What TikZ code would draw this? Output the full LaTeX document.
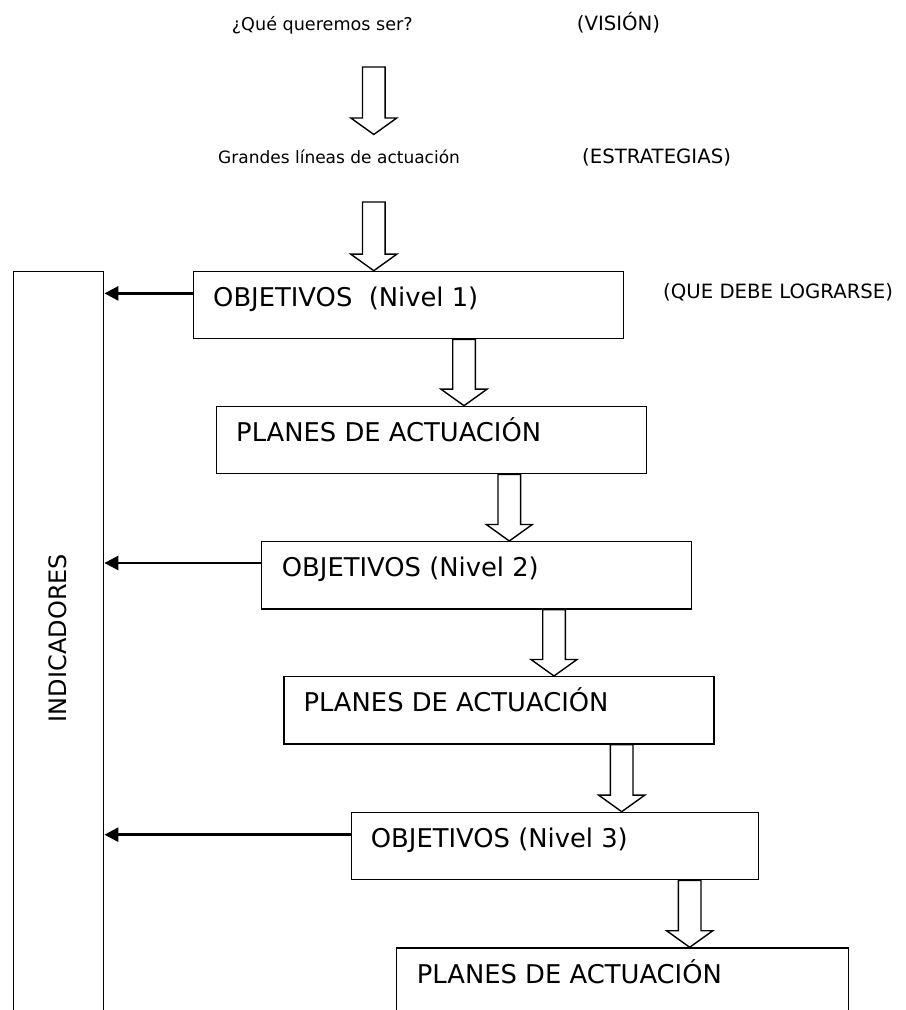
\documentclass[tikz,border=0pt]{standalone}
\usepackage{fontspec}
\setmainfont{DejaVu Sans}
\usetikzlibrary{calc,arrows.meta}

% Hollow block arrow: #1 gives the top of the shaft, #2 the tip (its x is used for both)
\newcommand\hollowarrow[2]{%
  \draw[hollow] let \p1=#1, \p2=#2 in
    ({\x2-11.3bp},{\y1}) -- ({\x2+11.3bp},{\y1}) -- ({\x2+11.3bp},{\y2+16.5bp})
    -- ({\x2+23bp},{\y2+16.5bp}) -- (\p2) -- ({\x2-23bp},{\y2+16.5bp})
    -- ({\x2-11.3bp},{\y2+16.5bp}) -- cycle;}

\tikzset{
  stage/.style={draw, line width=1.4bp, anchor=north west, minimum width=430bp,
    minimum height=67.3bp, inner sep=0},
  boxtext/.style={anchor=base west, inner sep=0, font=\fontsize{25.8bp}{30bp}\selectfont},
  smalltext/.style={anchor=base west, inner sep=0, font=\fontsize{17.6bp}{21bp}\selectfont},
  capstext/.style={anchor=base west, inner sep=0, font=\fontsize{19.7bp}{23bp}\selectfont},
  hollow/.style={draw, line width=1.4bp, fill=white, line join=miter},
  feedback/.style={line width=2.6bp, -{Triangle[length=14bp,width=14bp]}},
}

\begin{document}
\begin{tikzpicture}[x=1bp, y=1bp]
\useasboundingbox (0,0) rectangle (906,1010);
\clip (0,0) rectangle (906,1010);

% headings
\node[smalltext] (vision) at (231.7,979) {¿Qué queremos ser?};
\node[capstext] (visiontag) at (576.7,979) {(VISIÓN)};
\node[smalltext, font=\fontsize{17bp}{21bp}\selectfont] (lines) at (218,846) {Grandes líneas de actuación};
\node[capstext] (linestag) at (582,846) {(ESTRATEGIAS)};
\node[capstext] (goaltag) at (663,711) {(QUE DEBE LOGRARSE)};

% indicator column
\node[stage, minimum width=90bp, minimum height=760bp] (ind) at (13,739) {};
\node[rotate=90, inner sep=0, font=\fontsize{24bp}{28bp}\selectfont] (indlabel) at (58,372) {INDICADORES};

% stages
\node[stage] (o1) at (192.7,739.3) {};
\node[stage] (p1) at (215.7,604.3) {};
\node[stage] (o2) at (260.7,469) {};
\node[stage] (p2) at (283.3,334) {};
\node[stage, minimum width=407bp] (o3) at (350.7,198.3) {};
\node[stage, minimum width=452bp] (p3) at (395.7,62.7) {};

\node[boxtext] (o1t) at ($(o1.north west)+(20.3,-36)$) {OBJETIVOS\ \ (Nivel 1)};
\node[boxtext] (p1t) at ($(p1.north west)+(20.3,-36)$) {PLANES DE ACTUACIÓN};
\node[boxtext] (o2t) at ($(o2.north west)+(21,-36)$) {OBJETIVOS (Nivel 2)};
\node[boxtext] (p2t) at ($(p2.north west)+(20,-36)$) {PLANES DE ACTUACIÓN};
\node[boxtext] (o3t) at ($(o3.north west)+(20,-36)$) {OBJETIVOS (Nivel 3)};
\node[boxtext] (p3t) at ($(p3.north west)+(21,-36)$) {PLANES DE ACTUACIÓN};

% tips of the block arrows
\coordinate (t0) at (373.8,875.5);
\coordinate (t1) at ($(o1.north west)+(181.1,0)$);
\coordinate (t2) at ($(p1.north west)+(248.3,0)$);
\coordinate (t3) at ($(o2.north west)+(248.6,0)$);
\coordinate (t4) at ($(p2.north west)+(270.7,0)$);
\coordinate (t5) at ($(o3.north west)+(271,0)$);
\coordinate (t6) at ($(p3.north west)+(294,0)$);
\coordinate (s0) at (373.8,943);
\coordinate (s1) at (373.8,808);

\hollowarrow{(s0)}{(t0)}
\hollowarrow{(s1)}{(t1)}
\hollowarrow{(o1.south -| t2)}{(t2)}
\hollowarrow{(p1.south -| t3)}{(t3)}
\hollowarrow{(o2.south -| t4)}{(t4)}
\hollowarrow{(p2.south -| t5)}{(t5)}
\hollowarrow{(o3.south -| t6)}{(t6)}

% feedback to the indicators
\coordinate (f1) at ($(o1.north west)+(0,-22.7)$);
\coordinate (f2) at ($(o2.north west)+(0,-22)$);
\coordinate (f3) at ($(o3.north west)+(0,-23)$);
\draw[feedback] (f1) -- (f1 -| ind.east);
\draw[feedback] (f2) -- (f2 -| ind.east);
\draw[feedback] (f3) -- (f3 -| ind.east);
\end{tikzpicture}
\end{document}
